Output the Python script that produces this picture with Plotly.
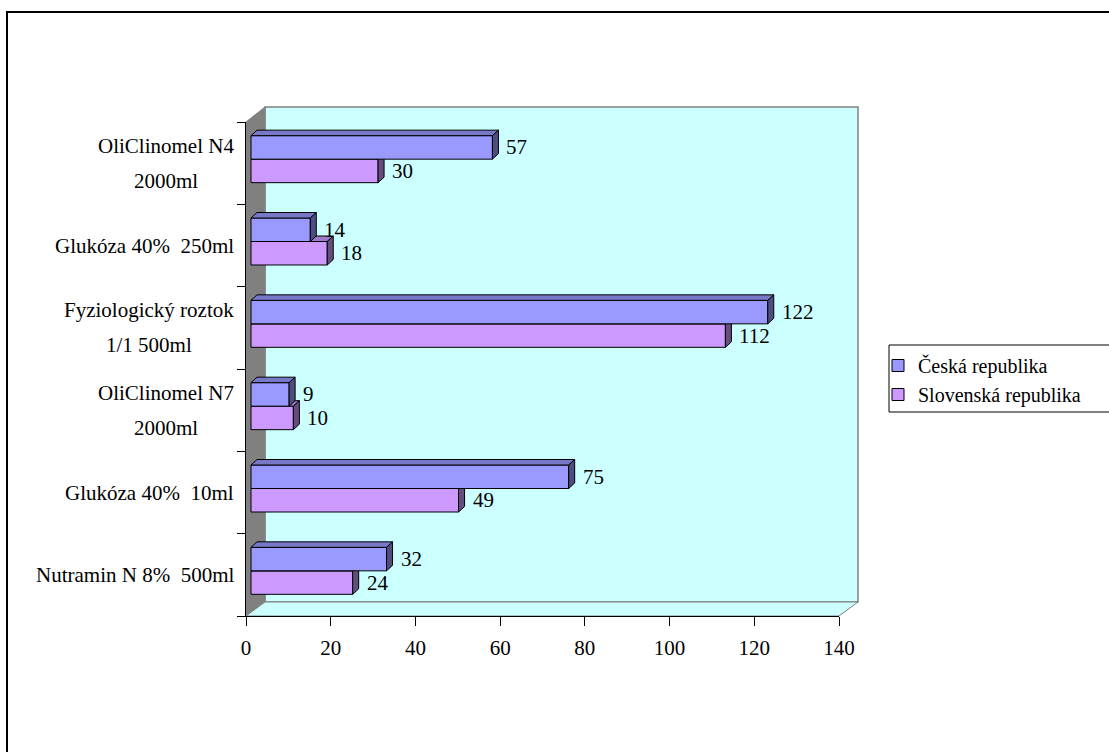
import plotly.graph_objects as go

# ---------------- data ----------------
categories = [
    "Nutramin N 8%\u00a0 500ml",
    "Glukóza 40%\u00a0 10ml",
    "OliClinomel N7<br>2000ml",
    "Fyziologický roztok<br>1/1 500ml",
    "Glukóza 40%\u00a0 250ml",
    "OliClinomel N4<br>2000ml",
]
ceska = [32, 75, 9, 122, 14, 57]
slovenska = [24, 49, 10, 112, 18, 30]
x_ticks = [0, 20, 40, 60, 80, 100, 120, 140]
series_names = ["Česká republika", "Slovenská republika"]

# ---------------- geometry helpers ----------------
W, H = 1109, 752
L, R, T, B = 246, 839, 122, 616          # plot area in pixels
PXU = (R - L) / 140.0                      # pixels per x unit
PYU = (B - T) / 6.0                        # pixels per category
def px(x):
    return (x - L) / (R - L)
def py(y):
    return (B - y) / (B - T)

FONT = "Liberation Serif"
BAR_SHIFT_X = 5 / PXU
BAR_SHIFT_Y = 4 / PYU
BW = 23.5 / PYU
DX = 6 / PXU
DY = 5.5 / PYU

pos = list(range(len(categories)))

fig = go.Figure()

def faces(values, y0s, y1s):
    tx, ty, sx, sy = [], [], [], []
    for v, y0, y1 in zip(values, y0s, y1s):
        tx += [0, v, v + DX, DX, 0, None]
        ty += [y1, y1, y1 + DY, y1 + DY, y1, None]
        sx += [v, v + DX, v + DX, v, v, None]
        sy += [y0, y0 + DY, y1 + DY, y1, y0, None]
    return tx, ty, sx, sy

series = [
    (slovenska, series_names[1], "#CC99FF", "#9F7ACC", "#664D80", -BW, "x2", "y2", 2),
    (ceska, series_names[0], "#9999FF", "#7878C8", "#4D4D80", 0.0, "x3", "y3", 1),
]
for vals, name, col, topc, sidec, off, xa, ya, rank in series:
    fig.add_trace(go.Bar(
        y=pos, x=vals, orientation="h", width=BW, offset=off,
        marker=dict(color=col, line=dict(color="black", width=1)),
        name=name, legendrank=rank, xaxis=xa, yaxis=ya, hoverinfo="x+name",
    ))
    y0s = [p + off for p in pos]
    y1s = [p + off + BW for p in pos]
    tx, ty, sx, sy = faces(vals, y0s, y1s)
    fig.add_trace(go.Scatter(x=tx, y=ty, fill="toself", fillcolor=topc, mode="lines",
                             line=dict(color="black", width=1), showlegend=False,
                             hoverinfo="skip", xaxis=xa, yaxis=ya))
    fig.add_trace(go.Scatter(x=sx, y=sy, fill="toself", fillcolor=sidec, mode="lines",
                             line=dict(color="black", width=1), showlegend=False,
                             hoverinfo="skip", xaxis=xa, yaxis=ya))

annotations = []
# data labels
for vals, off, xa, ya in [(slovenska, -BW, "x2", "y2"), (ceska, 0.0, "x3", "y3")]:
    for p, v in zip(pos, vals):
        annotations.append(dict(x=v, y=p + off + BW / 2, xref=xa, yref=ya,
                                text=str(v), showarrow=False, xanchor="left",
                                yanchor="middle", xshift=12,
                                font=dict(family=FONT, size=21, color="black")))
# category labels
for p, c in zip(pos, categories):
    lines = c.split("<br>")
    txt = "<br>".join('<span style="font-size:21px">%s</span>' % s for s in lines)
    annotations.append(dict(x=px(236), y=p, xref="paper", yref="y", text=txt,
                            showarrow=False, xanchor="right", yanchor="middle",
                            align="center",
                            font=dict(family=FONT, size=27, color="black")))

# walls & frame
shapes = [
    dict(type="rect", xref="paper", yref="paper", x0=px(7), y0=py(12), x1=px(1125), y1=py(770),
         line=dict(color="black", width=2), fillcolor="rgba(0,0,0,0)", layer="below"),
    dict(type="rect", xref="paper", yref="paper", x0=px(265), y0=py(107), x1=px(858), y1=py(602),
         line=dict(color="#808080", width=1.5), fillcolor="#CCFFFF", layer="below"),
    dict(type="path", xref="paper", yref="paper",
         path="M %f %f L %f %f L %f %f L %f %f Z" % (px(246), py(122), px(265), py(107),
                                                    px(265), py(602), px(246), py(616)),
         line=dict(color="#808080", width=1), fillcolor="#808080", layer="below"),
    dict(type="path", xref="paper", yref="paper",
         path="M %f %f L %f %f L %f %f L %f %f Z" % (px(246), py(616), px(265), py(602),
                                                    px(858), py(602), px(839), py(616)),
         line=dict(color="#808080", width=1), fillcolor="#CCFFFF", layer="below"),
    # legend box
    dict(type="rect", xref="paper", yref="paper", x0=px(889), y0=py(345), x1=px(1125), y1=py(412),
         line=dict(color="black", width=1), fillcolor="white", layer="below"),
]

bar_xrange = [-BAR_SHIFT_X, 140 - BAR_SHIFT_X]
bar_yrange = [-0.5 - BAR_SHIFT_Y, 5.5 - BAR_SHIFT_Y]

fig.update_layout(
    width=W, height=H,
    margin=dict(l=L, r=W - R, t=T, b=H - B, pad=0),
    paper_bgcolor="white", plot_bgcolor="rgba(0,0,0,0)",
    showlegend=True,
    barmode="overlay",
    font=dict(family=FONT, size=20, color="black"),
    xaxis=dict(range=[0, 140], tickvals=x_ticks, ticks="outside", ticklen=9,
               tickcolor="black", showline=True, linecolor="black", linewidth=1,
               showgrid=False, zeroline=False, ticklabelstandoff=4,
               tickfont=dict(family=FONT, size=21, color="black"), fixedrange=True),
    yaxis=dict(range=[-0.5, 5.5], tickvals=[i - 0.5 for i in range(7)], ticks="outside",
               ticklen=8, tickcolor="black", showticklabels=False, showline=True,
               linecolor="black", linewidth=1, showgrid=False, zeroline=False, fixedrange=True),
    xaxis2=dict(overlaying="x", anchor="y2", range=bar_xrange, visible=False, fixedrange=True),
    yaxis2=dict(overlaying="y", anchor="x2", range=bar_yrange, visible=False, fixedrange=True),
    xaxis3=dict(overlaying="x", anchor="y3", range=bar_xrange, visible=False, fixedrange=True),
    yaxis3=dict(overlaying="y", anchor="x3", range=bar_yrange, visible=False, fixedrange=True),
    legend=dict(x=px(878), y=py(346), xanchor="left", yanchor="top",
                bgcolor="rgba(0,0,0,0)", borderwidth=0, tracegroupgap=0,
                font=dict(family=FONT, size=20, color="black")),
    annotations=annotations,
    shapes=shapes,
)

fig.write_html("out.html")
